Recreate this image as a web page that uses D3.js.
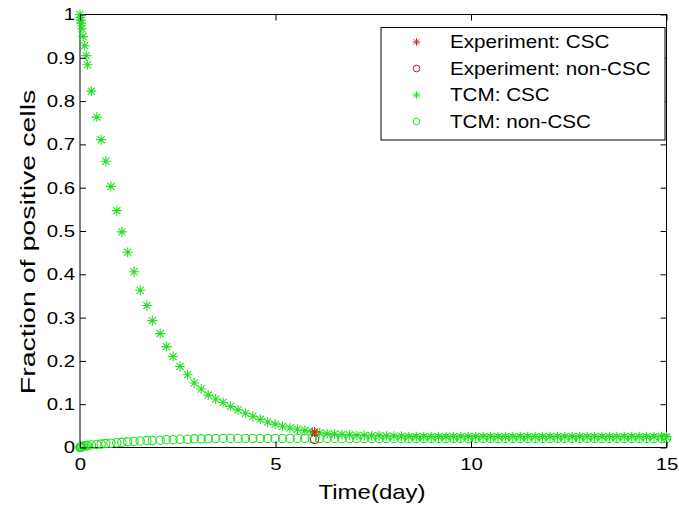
<!DOCTYPE html>
<html>
<head>
<meta charset="utf-8">
<script src="https://cdn.jsdelivr.net/npm/d3@7"></script>
<style>
  html, body { margin: 0; padding: 0; background: #fff; }
  svg { display: block; }
  text { font-family: "Liberation Sans", Arial, sans-serif; fill: #000; }
</style>
</head>
<body>
<svg id="chart" width="679" height="512"></svg>
<script>
// Model (TCM) output: time in days and fractions of positive cells
const tcmTime = [0, 0.01, 0.02, 0.03, 0.05, 0.08, 0.12, 0.16, 0.19, 0.29,
  0.43, 0.54, 0.66, 0.79, 0.94, 1.07, 1.22, 1.38, 1.54, 1.71,
  1.85, 2.05, 2.21, 2.38, 2.56, 2.75, 2.92, 3.10, 3.28, 3.47,
  3.66, 3.85, 4.04, 4.23, 4.42, 4.61, 4.80, 4.99, 5.18, 5.37,
  5.56, 5.75, 5.94, 6.13, 6.32, 6.51, 6.70, 6.89, 7.08, 7.27,
  7.46, 7.65, 7.84, 8.03, 8.22, 8.41, 8.60, 8.79, 8.98, 9.17,
  9.36, 9.55, 9.74, 9.93, 10.12, 10.31, 10.50, 10.69, 10.88, 11.07,
  11.26, 11.45, 11.64, 11.83, 12.02, 12.21, 12.40, 12.59, 12.78, 12.97,
  13.16, 13.35, 13.54, 13.73, 13.92, 14.11, 14.30, 14.49, 14.68, 14.87, 15.0];

const tcmCSC = [1.0, 0.993, 0.987, 0.980, 0.967, 0.949, 0.928, 0.905, 0.884, 0.823,
  0.763, 0.711, 0.661, 0.603, 0.547, 0.498, 0.451, 0.406, 0.363, 0.328,
  0.293, 0.263, 0.233, 0.210, 0.187, 0.168, 0.149, 0.135, 0.121, 0.112,
  0.104, 0.095, 0.087, 0.079, 0.072, 0.065, 0.059, 0.054, 0.049, 0.045,
  0.042, 0.039, 0.036, 0.034, 0.032, 0.031, 0.030, 0.029, 0.028, 0.028,
  0.027, 0.027, 0.026, 0.026, 0.026, 0.025, 0.025, 0.025, 0.025, 0.025,
  0.025, 0.025, 0.025, 0.025, 0.025, 0.025, 0.025, 0.025, 0.025, 0.025,
  0.025, 0.025, 0.025, 0.025, 0.025, 0.025, 0.025, 0.025, 0.025, 0.025,
  0.025, 0.025, 0.025, 0.025, 0.025, 0.025, 0.025, 0.025, 0.025, 0.025, 0.025];

const tcmNonCSC = [0.0, 0.0005, 0.001, 0.0015, 0.002, 0.003, 0.004, 0.004, 0.005, 0.006,
  0.007, 0.008, 0.009, 0.010, 0.011, 0.012, 0.013, 0.014, 0.015, 0.016,
  0.016, 0.017, 0.018, 0.018, 0.019, 0.019, 0.020, 0.020, 0.020, 0.021,
  0.021, 0.021, 0.021, 0.021, 0.021, 0.021, 0.021, 0.021, 0.021, 0.021,
  0.021, 0.021, 0.021, 0.021, 0.021, 0.021, 0.021, 0.021, 0.021, 0.021,
  0.021, 0.021, 0.021, 0.021, 0.021, 0.021, 0.021, 0.021, 0.021, 0.021,
  0.021, 0.021, 0.021, 0.021, 0.021, 0.021, 0.021, 0.021, 0.021, 0.021,
  0.021, 0.021, 0.021, 0.021, 0.021, 0.021, 0.021, 0.021, 0.021, 0.021,
  0.021, 0.021, 0.021, 0.021, 0.021, 0.021, 0.021, 0.021, 0.021, 0.021, 0.021];

// Experimental measurement
const expTime = [6];
const expCSC = [0.036];
const expNonCSC = [0.019];

const xTicks = [0, 5, 10, 15];
const yTicks = [0, 0.1, 0.2, 0.3, 0.4, 0.5, 0.6, 0.7, 0.8, 0.9, 1];

const legendLabels = ["Experiment: CSC", "Experiment: non-CSC", "TCM: CSC", "TCM: non-CSC"];

const GREEN = "#22e022";
const RED_STAR = "#cc2a2a";
const RED_CIRCLE = "#a02222";
const SX = 1.2; // horizontal glyph stretch of the figure text

const svg = d3.select("#chart");
const x = d3.scaleLinear().domain([0, 15]).range([80, 666.5]);
const y = d3.scaleLinear().domain([0, 1]).range([447.5, 14.5]);

function starPath(s) {
  const d = s * 0.72;
  return `M${-s},0L${s},0M0,${-s}L0,${s}M${-d},${-d}L${d},${d}M${-d},${d}L${d},${-d}`;
}

// axes box
svg.append("rect")
  .attr("x", x(0)).attr("y", y(1))
  .attr("width", x(15) - x(0)).attr("height", y(0) - y(1))
  .attr("fill", "#fff").attr("stroke", "#000").attr("stroke-width", 1);

// data layer
const plot = svg.append("g");
const tcm = tcmTime.map((t, i) => ({t, csc: tcmCSC[i], non: tcmNonCSC[i]}));

plot.selectAll(".tcm-star").data(tcm).join("path")
  .attr("class", "tcm-star")
  .attr("transform", d => `translate(${x(d.t)},${y(d.csc)})`)
  .attr("d", starPath(5))
  .attr("fill", "none").attr("stroke", GREEN).attr("stroke-width", 1.1);

plot.selectAll(".tcm-circ").data(tcm).join("circle")
  .attr("class", "tcm-circ")
  .attr("cx", d => x(d.t)).attr("cy", d => y(d.non)).attr("r", 4.2)
  .attr("fill", "none").attr("stroke", GREEN).attr("stroke-width", 1.1);

const expData = expTime.map((t, i) => ({t, csc: expCSC[i], non: expNonCSC[i]}));
plot.selectAll(".exp-star").data(expData).join("path")
  .attr("class", "exp-star")
  .attr("transform", d => `translate(${x(d.t)},${y(d.csc)})`)
  .attr("d", starPath(5))
  .attr("fill", "none").attr("stroke", RED_STAR).attr("stroke-width", 1.1);
plot.selectAll(".exp-circ").data(expData).join("circle")
  .attr("class", "exp-circ")
  .attr("cx", d => x(d.t)).attr("cy", d => y(d.non)).attr("r", 4.2)
  .attr("fill", "none").attr("stroke", RED_CIRCLE).attr("stroke-width", 1.1);

// axes with inward ticks on all four sides
const fmt = d => d3.format("~g")(d);
function styleAxis(g) {
  g.select(".domain").remove();
  g.selectAll(".tick line").attr("stroke", "#000");
}
const gx = svg.append("g").attr("transform", `translate(0,${y(0)})`)
  .call(d3.axisBottom(x).tickValues(xTicks).tickFormat(fmt).tickSize(-6).tickPadding(10.5));
const gy = svg.append("g").attr("transform", `translate(${x(0)},0)`)
  .call(d3.axisLeft(y).tickValues(yTicks).tickFormat(fmt).tickSize(-6).tickPadding(5));
const gxt = svg.append("g").attr("transform", `translate(0,${y(1)})`)
  .call(d3.axisTop(x).tickValues(xTicks).tickFormat("").tickSize(-6));
const gyr = svg.append("g").attr("transform", `translate(${x(15)},0)`)
  .call(d3.axisRight(y).tickValues(yTicks).tickFormat("").tickSize(-6));
[gx, gy, gxt, gyr].forEach(styleAxis);

[gx, gy].forEach(g => g.selectAll(".tick text")
  .attr("font-family", "Liberation Sans, Arial, sans-serif")
  .attr("font-size", 17)
  .attr("fill", "#000"));
gx.selectAll(".tick text").attr("transform", `scale(${SX},1)`);
gy.selectAll(".tick text").each(function () {
  const t = d3.select(this);
  t.attr("x", +t.attr("x") / SX).attr("transform", `scale(${SX},1)`);
});

// axis titles
svg.append("text")
  .attr("transform", `translate(372,499) scale(${SX},1)`)
  .attr("text-anchor", "middle").attr("font-size", 20)
  .text("Time(day)");
svg.append("text")
  .attr("transform", `translate(35,242) rotate(-90) scale(1.36,1)`)
  .attr("text-anchor", "middle").attr("font-size", 21)
  .text("Fraction of positive cells");

// legend
const lg = svg.append("g");
lg.append("rect")
  .attr("x", 381).attr("y", 27.5).attr("width", 284).attr("height", 112.5)
  .attr("fill", "#fff").attr("stroke", "#000").attr("stroke-width", 1);
const legendItems = [
  {label: legendLabels[0], shape: "star", color: RED_STAR},
  {label: legendLabels[1], shape: "circle", color: RED_CIRCLE},
  {label: legendLabels[2], shape: "star", color: GREEN},
  {label: legendLabels[3], shape: "circle", color: GREEN}
];
const rowY = d3.scalePoint().domain(d3.range(legendItems.length)).range([42, 121.5]);
legendItems.forEach((it, i) => {
  const cy = rowY(i);
  if (it.shape === "star") {
    lg.append("path").attr("transform", `translate(416.5,${cy})`)
      .attr("d", starPath(3.8)).attr("fill", "none")
      .attr("stroke", it.color).attr("stroke-width", 1);
  } else {
    lg.append("circle").attr("cx", 416.5).attr("cy", cy).attr("r", 3.3)
      .attr("fill", "none").attr("stroke", it.color).attr("stroke-width", 1);
  }
  lg.append("text")
    .attr("transform", `translate(450,${cy + 6}) scale(1.18,1)`)
    .attr("font-size", 17.5)
    .text(it.label);
});
</script>
</body>
</html>
